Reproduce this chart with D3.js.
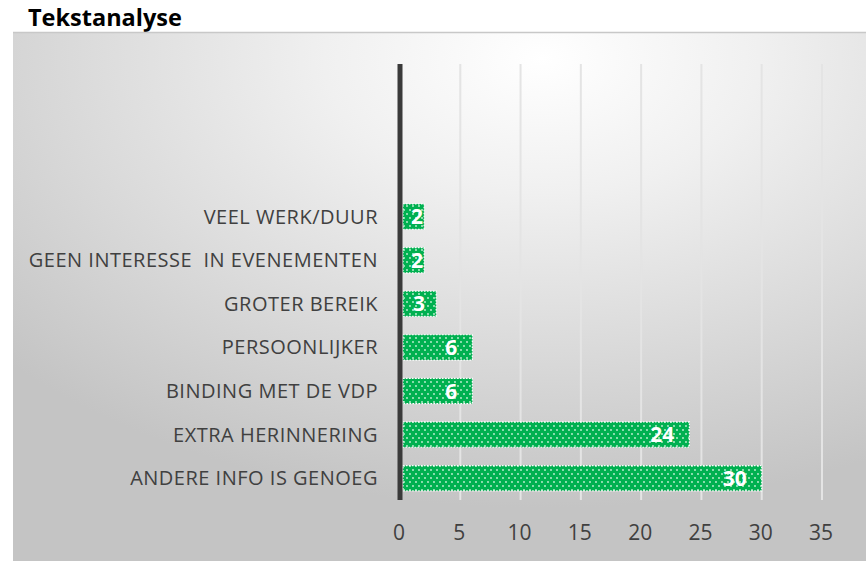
<!DOCTYPE html>
<html>
<head>
<meta charset="utf-8">
<script src="https://cdn.jsdelivr.net/npm/d3@7"></script>
<style>
  body { margin: 0; background: #fff; }
  svg { display: block; font-family: "Open Sans", sans-serif; }
</style>
</head>
<body>
<div id="chart"></div>
<script>
// top three slots of the category axis are empty in the original
var categories = ['', '', '', 'VEEL WERK/DUUR', 'GEEN INTERESSE  IN EVENEMENTEN', 'GROTER BEREIK',
                  'PERSOONLIJKER', 'BINDING MET DE VDP', 'EXTRA HERINNERING', 'ANDERE INFO IS GENOEG']
var values = [null, null, null, 2, 2, 3, 6, 6, 24, 30]
var ticks = [0, 5, 10, 15, 20, 25, 30, 35]

var W = 866, H = 561

var svg = d3.select('#chart').append('svg')
  .attr('width', W)
  .attr('height', H)

var defs = svg.append('defs')

var grad = defs.append('radialGradient')
  .attr('id', 'bg')
  .attr('cx', '62%').attr('cy', '5%').attr('r', '85%')
grad.append('stop').attr('offset', '0%').attr('stop-color', '#ffffff')
grad.append('stop').attr('offset', '30%').attr('stop-color', '#f0f0f0')
grad.append('stop').attr('offset', '100%').attr('stop-color', '#c4c4c4')

var pat = defs.append('pattern')
  .attr('id', 'dots')
  .attr('patternUnits', 'userSpaceOnUse')
  .attr('width', 12).attr('height', 8)
pat.append('rect').attr('width', 12).attr('height', 8).attr('fill', '#00b050')
;[[2, 2], [8, 2], [5, 6], [11, 6]].forEach(function(p) {
  pat.append('circle').attr('cx', p[0]).attr('cy', p[1]).attr('r', 0.9).attr('fill', '#c8f0d8')
})

// title
svg.append('text')
  .attr('x', 28).attr('y', 26)
  .attr('font-size', 23.5).attr('font-weight', 'bold').attr('fill', '#000')
  .text('Tekstanalyse')

// chart area
svg.append('rect')
  .attr('x', 13).attr('y', 32)
  .attr('width', W - 13).attr('height', H - 32)
  .attr('fill', 'url(#bg)')
svg.append('line')
  .attr('x1', 13).attr('x2', W).attr('y1', 32.5).attr('y2', 32.5)
  .attr('stroke', '#c8c8c8').attr('stroke-width', 1.5)

var x = d3.scaleLinear().domain([0, 35]).range([400, 822])
var y = d3.scaleBand().domain(d3.range(categories.length)).range([64, 500]).paddingInner(0.42).paddingOuter(0.21)

// gridlines
svg.append('g')
  .selectAll('line')
  .data(ticks.slice(1))
  .enter().append('line')
  .attr('x1', function(d) { return x(d) }).attr('x2', function(d) { return x(d) })
  .attr('y1', 64).attr('y2', 500)
  .attr('stroke', '#e4e4e4').attr('stroke-width', 2)

// x tick labels
svg.append('g')
  .selectAll('text')
  .data(ticks)
  .enter().append('text')
  .attr('x', function(d) { return x(d) - 1 })
  .attr('y', 540)
  .attr('text-anchor', 'middle')
  .attr('font-size', 21).attr('fill', '#404040')
  .text(function(d) { return d })

// bars
var idx = d3.range(categories.length).filter(function(i) { return values[i] != null })

svg.append('g')
  .selectAll('rect')
  .data(idx)
  .enter().append('rect')
  .attr('x', x(0) + 3)
  .attr('y', function(i) { return y(i) })
  .attr('width', function(i) { return x(values[i]) - x(0) - 3 })
  .attr('height', y.bandwidth())
  .attr('fill', 'url(#dots)')
  .attr('stroke', '#ffffff').attr('stroke-width', 1.2).attr('stroke-dasharray', '1.5,1.5')

// value labels, inside end; short bars push the label to the end
svg.append('g')
  .selectAll('text')
  .data(idx)
  .enter().append('text')
  .attr('y', function(i) { return y(i) + y.bandwidth() / 2 + 7.5 })
  .attr('text-anchor', 'end')
  .attr('font-size', 21).attr('font-weight', 'bold').attr('fill', '#fff')
  .text(function(i) { return values[i] })
  .attr('x', function(i) {
    var barW = x(values[i]) - x(0) - 3
    var gap = Math.max(1, Math.min(15, barW - this.getComputedTextLength() - 10))
    return x(values[i]) - gap
  })

// category labels
svg.append('g')
  .selectAll('text')
  .data(d3.range(categories.length))
  .enter().append('text')
  .attr('x', 378)
  .attr('y', function(i) { return y(i) + y.bandwidth() / 2 + 7 })
  .attr('text-anchor', 'end')
  .attr('font-size', 20).attr('fill', '#404040')
  .attr('letter-spacing', 0.5)
  .attr('xml:space', 'preserve')
  .text(function(i) { return categories[i] })

// vertical axis line
svg.append('line')
  .attr('x1', x(0)).attr('x2', x(0))
  .attr('y1', 64).attr('y2', 500)
  .attr('stroke', '#3a3a3a').attr('stroke-width', 5)
</script>
</body>
</html>
